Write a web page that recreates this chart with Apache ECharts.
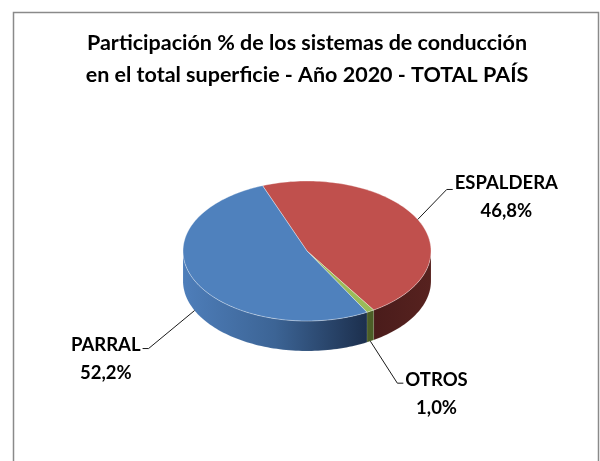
<!DOCTYPE html>
<html><head><meta charset="utf-8">
<script src="https://cdn.jsdelivr.net/npm/echarts@6/dist/echarts.min.js"></script>
<style>html,body{margin:0;padding:0;background:#fff}#c{width:600px;height:461px}</style>
</head><body><div id="c"></div>
<script>
// ---- data ----
const categories = ['ESPALDERA', 'OTROS', 'PARRAL'];
const values = [46.8, 1.0, 52.2];
const titleLines = ['Participación % de los sistemas de conducción', 'en el total superficie - Año 2020 - TOTAL PAÍS'];

// ---- styles / layout ----
const FONT = 'Lato, "Open Sans", sans-serif';
const topColors = ['#C0504D', '#9BBB59', '#4F81BD'];
const sideFills = [
  {type: 'linear', x: 0, y: 0, x2: 1, y2: 0, colorStops: [{offset: 0, color: '#4A1C1B'}, {offset: 1, color: '#57221F'}]},
  {type: 'linear', x: 0, y: 0, x2: 1, y2: 0, colorStops: [{offset: 0, color: '#4C5E27'}, {offset: 1, color: '#4C5E27'}]},
  {type: 'linear', x: 0, y: 0, x2: 1, y2: 0, colorStops: [{offset: 0, color: '#4E7EBA'}, {offset: 0.5, color: '#3C6495'}, {offset: 1, color: '#1C2F4D'}]}
];
const geo = {cx: 307, cy: 251, rx: 124, ry: 70, depth: 30, start: 111};
// elbow offsets from the anchor point of each slice, label side
const labelLayout = [
  {dx: 29, dy: -30, side: 1, textDy: -6},
  {dx: 27, dy: 42, side: 1, textDy: -3},
  {dx: -46, dy: 38, side: -1, textDy: -4}
];
const labelFontSize = 18.5;
const labelLineGap = 28;

const total = values.reduce((a, b) => a + b, 0);
function sliceAngles(i) {
  let s = geo.start;
  for (let j = 0; j < i; j++) s -= 360 * values[j] / total;
  return [s - 360 * values[i] / total, s];
}
function pt(deg, dz) {
  const r = deg * Math.PI / 180;
  return [geo.cx + geo.rx * Math.cos(r), geo.cy - geo.ry * Math.sin(r) + dz];
}
function arcPts(from, to, dz) {
  const n = Math.max(2, Math.ceil(Math.abs(to - from) / 1.5));
  const out = [];
  for (let k = 0; k <= n; k++) out.push(pt(from + (to - from) * k / n, dz));
  return out;
}
const measureCtx = document.createElement('canvas').getContext('2d');
function textWidth(t) {
  measureCtx.font = 'bold ' + labelFontSize + 'px ' + FONT;
  return measureCtx.measureText(t).width;
}
function pctText(v) { return v.toFixed(1).replace('.', ',') + '%'; }

const chart = echarts.init(document.getElementById('c'), null, {renderer: 'canvas'});
chart.setOption({
  backgroundColor: '#fff',
  animation: false,
  title: {
    text: titleLines.join('\n'),
    left: 307,
    textAlign: 'center',
    top: 27,
    padding: 0,
    textStyle: {fontFamily: FONT, fontWeight: 'bold', fontSize: 21.5, lineHeight: 32, color: '#000'}
  },
  graphic: [{
    type: 'rect', shape: {x: 13.5, y: 12.5, width: 585, height: 470},
    style: {fill: 'none', stroke: '#8a8a8a', lineWidth: 1.5}, silent: true, z: 0
  }],
  series: [
    {
      type: 'custom', coordinateSystem: 'none', z: 2,
      data: values,
      renderItem: function (params) {
        const i = params.dataIndex;
        const [a1, a0] = sliceAngles(i);
        const children = [];
        for (let k = -2; k <= 1; k++) {
          const lo = Math.max(a1, -180 + 360 * k), hi = Math.min(a0, 360 * k);
          if (hi > lo) {
            const pts = arcPts(hi, lo, 0).concat(arcPts(lo, hi, geo.depth));
            children.push({type: 'polygon', shape: {points: pts}, style: {fill: sideFills[i], stroke: 'rgba(255,255,255,0.15)', lineWidth: 0.6}});
          }
        }
        return {type: 'group', children: children};
      }
    },
    {
      type: 'custom', coordinateSystem: 'none', z: 3,
      data: values,
      renderItem: function (params) {
        const i = params.dataIndex;
        const [a1, a0] = sliceAngles(i);
        const pts = [[geo.cx, geo.cy]].concat(arcPts(a0, a1, 0));
        return {type: 'polygon', shape: {points: pts}, style: {fill: topColors[i], stroke: 'rgba(255,255,255,0.45)', lineWidth: 0.8}};
      }
    },
    {
      type: 'custom', coordinateSystem: 'none', z: 4,
      data: values,
      renderItem: function (params, api) {
        const i = params.dataIndex;
        const v = api.value(0);
        const [a1, a0] = sliceAngles(i);
        const m = (a0 + a1) / 2;
        const front = Math.sin(m * Math.PI / 180) < 0;
        const anchor = pt(m, front ? geo.depth : 0);
        const L = labelLayout[i];
        const elbow = [anchor[0] + L.dx, anchor[1] + L.dy];
        const end = [elbow[0] + 6 * L.side, elbow[1]];
        const name = categories[i];
        const pct = pctText(v);
        const w = Math.max(textWidth(name), textWidth(pct));
        const tx = end[0] + L.side * (2 + w / 2);
        const ty = elbow[1] + L.textDy;
        const font = 'bold ' + labelFontSize + 'px ' + FONT;
        return {
          type: 'group',
          children: [
            {type: 'polyline', shape: {points: [anchor, elbow, end]}, style: {stroke: '#1a1a1a', lineWidth: 1, fill: null}},
            {type: 'text', style: {text: name, x: tx, y: ty, align: 'center', verticalAlign: 'middle', font: font, fill: '#000'}},
            {type: 'text', style: {text: pct, x: tx, y: ty + labelLineGap, align: 'center', verticalAlign: 'middle', font: font, fill: '#000'}}
          ]
        };
      }
    }
  ]
});
</script>
</body></html>
